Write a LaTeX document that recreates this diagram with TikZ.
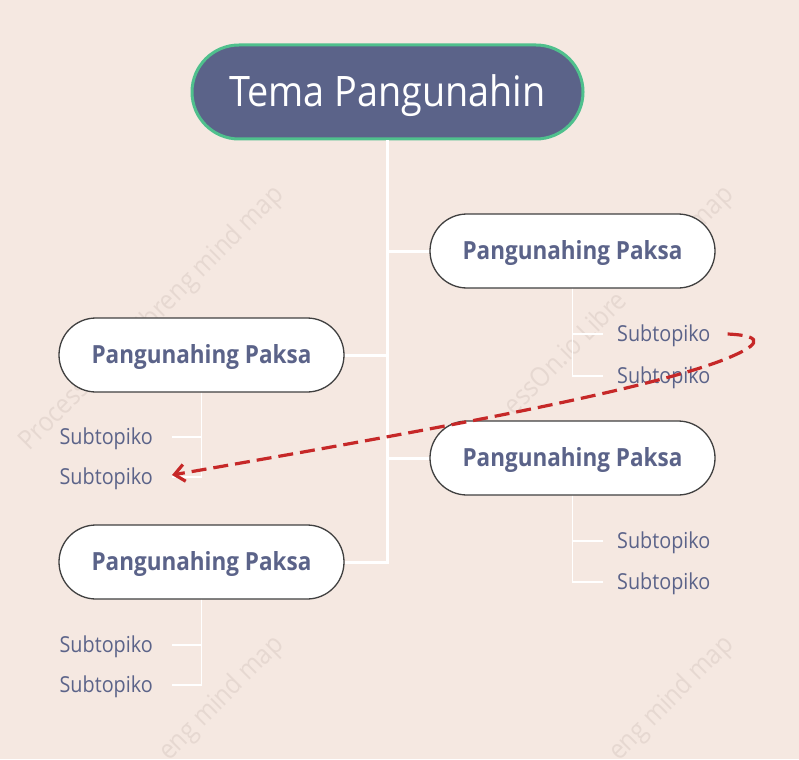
\documentclass[tikz,border=0pt]{standalone}
\usepackage{fontspec}
\setmainfont[FakeStretch=0.9]{Open Sans}
\usetikzlibrary{shapes.misc, calc, arrows.meta}
\definecolor{bg}{HTML}{F5E8E1}
\definecolor{slate}{HTML}{5B6389}
\definecolor{rootborder}{HTML}{4FC08D}
\definecolor{wm}{HTML}{E6D8D1}
\definecolor{link}{HTML}{C62828}
\begin{document}
\begin{tikzpicture}[x=1pt,y=-1pt,
  rootbox/.style={rounded rectangle, fill=slate, draw=rootborder, line width=3pt, text=white,
    font=\fontsize{42}{44}\selectfont, minimum width=391pt, minimum height=94pt, inner sep=0pt,
    text height=30pt, text depth=0pt},
  topicbox/.style={rounded rectangle, fill=white, draw=black!75, line width=1.3pt, text=slate,
    font=\fontsize{25}{27}\selectfont\bfseries, minimum width=285pt, minimum height=74pt, inner sep=0pt,
    text height=17.9pt, text depth=0pt},
  subbox/.style={text=slate, font=\fontsize{22}{24}\selectfont, inner sep=0pt,
    text height=15.7pt, text depth=0pt},
  trunk/.style={draw=white, line width=3pt},
  twig/.style={draw=white, line width=1.6pt},
  wmark/.style={text=wm, font=\fontsize{27}{29}\selectfont, rotate=45, inner sep=0pt},
  linkline/.style={draw=link, line width=3.2pt, dash pattern=on 15pt off 7pt,
    -{Straight Barb[length=10pt,width=17pt,line width=3.2pt]}}
]
\fill[bg] (0,0) rectangle (799,759);
\useasboundingbox (0,0) rectangle (799,759);
% watermarks (only their visible parts are set; hidden parts keep their space)
\node[wmark] (wmA) at (152,319) {Process\phantom{On.io~L}ibreng mind map};
\node[wmark] (wmB) at (602,319) {\phantom{Proc}essOn.io Libre\phantom{ng~mind~}map};
\node[wmark] (wmC) at (152,769) {\phantom{ProcessOn.io~Libr}eng mind map};
\node[wmark] (wmD) at (602,769) {\phantom{ProcessOn.io~Libr}eng mind map};
% root
\node[rootbox] (root) at (387.5,92) {Tema Pangunahin};
% topics
\node[topicbox] (t1) at (572.5,251) {Pangunahing Paksa};
\node[topicbox] (t2) at (201.5,355) {Pangunahing Paksa};
\node[topicbox] (t3) at (572.5,458) {Pangunahing Paksa};
\node[topicbox] (t4) at (201.5,562) {Pangunahing Paksa};
% subtopics
\node[subbox, anchor=west] (s1a) at (617,334) {Subtopiko};
\node[subbox, anchor=west] (s1b) at (617,376) {Subtopiko};
\node[subbox, anchor=west] (s3a) at (617,541) {Subtopiko};
\node[subbox, anchor=west] (s3b) at (617,582) {Subtopiko};
\node[subbox, anchor=east] (s2a) at (153,437) {Subtopiko};
\node[subbox, anchor=east] (s2b) at (153,477) {Subtopiko};
\node[subbox, anchor=east] (s4a) at (153,645) {Subtopiko};
\node[subbox, anchor=east] (s4b) at (153,685) {Subtopiko};
% trunk connectors
\draw[trunk] (root.south) |- (t4.east);
\draw[trunk] (root.south |- t1.west) -- (t1.west);
\draw[trunk] (root.south |- t2.east) -- (t2.east);
\draw[trunk] (root.south |- t3.west) -- (t3.west);
% twigs
\draw[twig] (t1.south) |- ([xshift=-14pt]s1b.west);
\draw[twig] (t1.south |- s1a.west) -- ([xshift=-14pt]s1a.west);
\draw[twig] (t3.south) |- ([xshift=-14pt]s3b.west);
\draw[twig] (t3.south |- s3a.west) -- ([xshift=-14pt]s3a.west);
\draw[twig] (t2.south) |- ([xshift=19pt]s2b.east);
\draw[twig] (t2.south |- s2a.east) -- ([xshift=19pt]s2a.east);
\draw[twig] (t4.south) |- ([xshift=19pt]s4b.east);
\draw[twig] (t4.south |- s4a.east) -- ([xshift=19pt]s4a.east);
% dashed link
\draw[linkline] ([xshift=17pt]s1a.east) .. controls (770,336) and (756,347) .. (723,360)
  .. controls (640,392) and (420,432) .. ([xshift=19pt,yshift=2pt]s2b.east);
\end{tikzpicture}
\end{document}
